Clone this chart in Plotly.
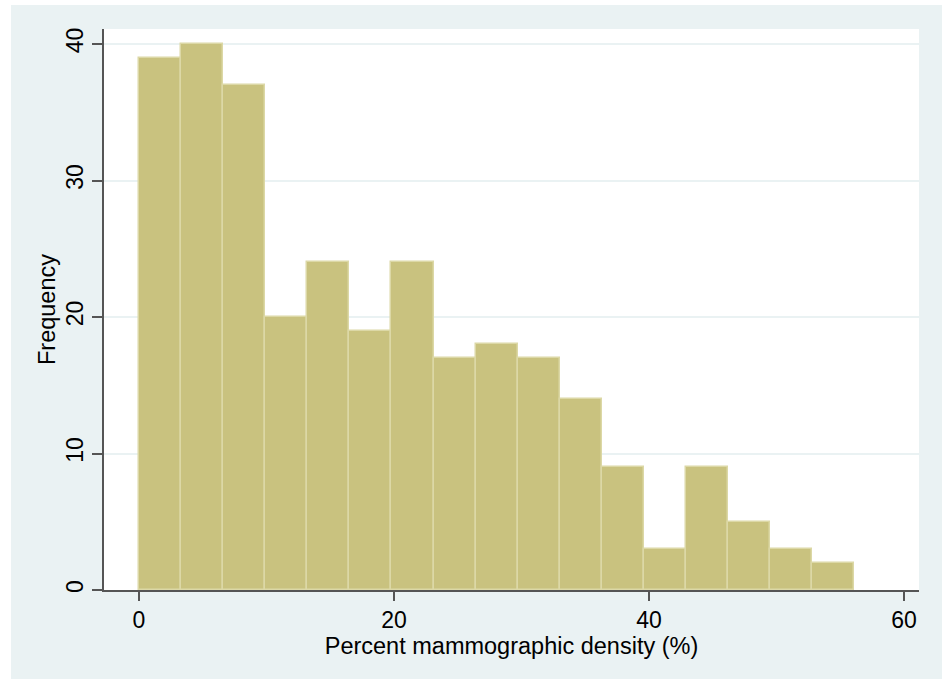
import plotly.graph_objects as go

# Data
frequency = [39, 40, 37, 20, 24, 19, 24, 17, 18, 17, 14, 9, 3, 9, 5, 3, 2]
bin_start = 0.0
bin_width = 3.3
x_tick_vals = [0, 20, 40, 60]
y_tick_vals = [0, 10, 20, 30, 40]

centers = [bin_start + (i + 0.5) * bin_width for i in range(len(frequency))]

BG = "#EAF2F3"
fig = go.Figure(go.Bar(
    x=centers, y=frequency, width=bin_width,
    marker=dict(color="#C9C27F", line=dict(color="#DCD8A6", width=1.5)),
))

fig.update_layout(
    width=942, height=679,
    margin=dict(l=104, r=23, t=29, b=89),
    paper_bgcolor=BG, plot_bgcolor="white",
    font=dict(family="Liberation Sans, Arial, sans-serif", color="black"),
    showlegend=False, bargap=0,
    shapes=[
        dict(type="rect", xref="paper", yref="paper", x0=-0.2, x1=1.1,
             y0=1.0428, y1=1.1, fillcolor="white", line_width=0, layer="below"),
        dict(type="rect", xref="paper", yref="paper", x0=-0.2, x1=-0.1141,
             y0=-0.2, y1=1.1, fillcolor="white", line_width=0, layer="below"),
    ],
    annotations=[
        dict(text="Frequency", xref="paper", yref="paper", x=-0.0705, y=0.5,
             xanchor="center", yanchor="middle", textangle=-90, showarrow=False,
             font=dict(size=23.5)),
    ],
)
fig.update_xaxes(
    range=[-2.745, 61.18], tickvals=x_tick_vals, ticks="outside", ticklen=9,
    tickcolor="#555", tickwidth=1.5, showline=True, linecolor="#555", linewidth=1.5,
    showgrid=False, zeroline=False, tickfont=dict(size=23),
    title=dict(text="Percent mammographic density (%)", font=dict(size=23.5), standoff=0),
)
fig.update_yaxes(
    range=[0, 41.1], tickvals=y_tick_vals, ticks="outside", ticklen=10,
    tickcolor="#555", tickwidth=1.5, showline=True, linecolor="#555", linewidth=1.5,
    showgrid=True, gridcolor=BG, gridwidth=2, zeroline=False,
    tickangle=-90, tickfont=dict(size=23), ticklabelstandoff=0,
)

fig.write_html("out.html")
